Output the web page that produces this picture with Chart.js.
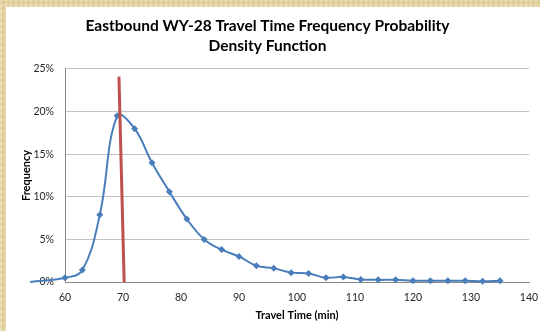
<!DOCTYPE html>
<html>
<head>
<meta charset="utf-8">
<script src="https://cdn.jsdelivr.net/npm/chart.js@4"></script>
<style>
  html, body { margin: 0; padding: 0; }
  body {
    width: 540px; height: 331px; overflow: hidden; position: relative;
    background-color: #e8d6a2;
    background-image:
      repeating-linear-gradient(90deg, rgba(255,255,255,0.12) 0 2px, rgba(0,0,0,0.03) 2px 5px),
      repeating-linear-gradient(0deg, rgba(255,255,255,0.10) 0 3px, rgba(150,110,40,0.05) 3px 6px);
  }
  #panel { position: absolute; left: 6px; top: 7px; right: 0; bottom: 0; background: #fff; }
  #wrap { position: absolute; left: 0; top: 0; width: 540px; height: 331px; }
</style>
</head>
<body>
<div id="panel"></div>
<div id="wrap"><canvas id="freqChart" width="540" height="331"></canvas></div>
<script>
// data
const travelTimes = [54, 60, 63, 66, 69, 72, 75, 78, 81, 84, 87, 90, 93, 96, 99, 102, 105, 108, 111, 114, 117, 120, 123, 126, 129, 132, 135];
const frequency = [0, 0.005, 0.014, 0.079, 0.195, 0.180, 0.140, 0.106, 0.074, 0.050, 0.038, 0.030, 0.019, 0.016, 0.011, 0.010, 0.005, 0.006, 0.003, 0.0025, 0.0025, 0.0015, 0.0015, 0.0015, 0.0015, 0.0008, 0.0015];
// red marker line (x, y pairs)
const markerX = [69.3, 70.2];
const markerY = [0.241, 0];
const xTicks = [60, 70, 80, 90, 100, 110, 120, 130, 140];
const yTicks = [0, 0.05, 0.10, 0.15, 0.20, 0.25];

const chartTitle = ['Eastbound WY-28 Travel Time Frequency Probability', 'Density Function'];

const blue = '#4a7ebb';
const red = '#c0504d';

const curvePoints = travelTimes.map(function (t, i) { return { x: t, y: frequency[i] }; });
const markerPoints = markerX.map(function (t, i) { return { x: t, y: markerY[i] }; });

const ctx = document.getElementById('freqChart').getContext('2d');
const chart = new Chart(ctx, {
    type: 'scatter',
    data: {
        datasets: [{
            label: 'Frequency',
            data: curvePoints,
            showLine: true,
            borderColor: blue,
            backgroundColor: blue,
            borderWidth: 2,
            tension: 0.4,
            pointStyle: 'rectRot',
            // no marker for the point that sits left of the axis
            pointRadius: function (c) { return c.raw && c.raw.x < 60 ? 0 : 3.5; },
            pointBorderWidth: 0,
            clip: false,
            order: 2
        }, {
            label: 'Marker',
            data: markerPoints,
            showLine: true,
            borderColor: red,
            borderWidth: 3,
            pointRadius: 0,
            tension: 0,
            clip: false,
            order: 1
        }]
    },
    options: {
        responsive: false,
        animation: false,
        events: [],
        layout: { padding: { left: 6, right: 11, top: 0, bottom: 8 } },
        plugins: {
            legend: { display: false },
            tooltip: { enabled: false },
            title: {
                display: true,
                text: chartTitle,
                color: '#000',
                font: { family: 'Lato', size: 15.5, weight: 'bold', lineHeight: 1.29 },
                padding: { top: 16, bottom: 13 }
            }
        },
        scales: {
            x: {
                type: 'linear',
                min: 60,
                max: 140,
                afterBuildTicks: function (scale) {
                    scale.ticks = xTicks.map(function (v) { return { value: v }; });
                },
                afterFit: function (scale) {
                    scale.height = 41;
                    // let the last label hang into the right margin
                    scale.paddingLeft = 0;
                    scale.paddingRight = 0;
                },
                grid: { display: false, drawTicks: false },
                border: { display: true, color: '#868686', width: 1 },
                ticks: {
                    color: '#262626',
                    padding: 9,
                    maxRotation: 0,
                    font: { family: 'Lato', size: 10.5 }
                },
                title: {
                    display: true,
                    text: 'Travel Time (min)',
                    color: '#000',
                    font: { family: 'Lato', size: 11, weight: 'bold' },
                    padding: { top: 0, bottom: 1 }
                }
            },
            y: {
                min: 0,
                max: 0.25,
                afterBuildTicks: function (scale) {
                    scale.ticks = yTicks.map(function (v) { return { value: v }; });
                },
                afterFit: function (scale) { scale.width = 59; },
                grid: { color: '#c3c3c3', lineWidth: 1, drawTicks: false },
                border: { display: true, color: '#868686', width: 1 },
                ticks: {
                    color: '#262626',
                    padding: 11,
                    font: { family: 'Lato', size: 10.5 },
                    callback: function (v) { return Math.round(v * 100) + '%'; }
                },
                title: {
                    display: true,
                    text: 'Frequency',
                    color: '#000',
                    font: { family: 'Lato', size: 11, weight: 'bold' },
                    padding: { top: 14, bottom: 0 }
                }
            }
        }
    }
});
</script>
</body>
</html>
